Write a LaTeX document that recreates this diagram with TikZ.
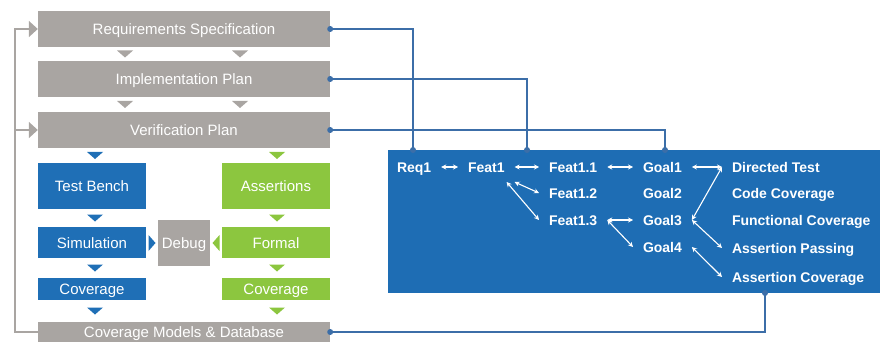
\documentclass[tikz,border=0pt]{standalone}
\usepackage{fontspec}
\setmainfont{Liberation Sans}
\usetikzlibrary{arrows.meta}
\definecolor{BoxGray}{HTML}{A9A5A2}
\definecolor{BenchBlue}{HTML}{1F6FB6}
\definecolor{FormalGreen}{HTML}{8CC63F}
\definecolor{PanelBlue}{HTML}{1E6DB4}
\definecolor{LinkBlue}{HTML}{3C6EA8}

\begin{document}
\begin{tikzpicture}[x=1pt, y=-1pt]

    \tikzset{%
        flowbox/.style={fill=#1, text=white, inner sep=0pt, text height=11pt, text depth=0pt,
                font=\fontsize{15}{18}\selectfont},
        planbox/.style={flowbox=BoxGray, minimum width=292, minimum height=36},
        link/.style={LinkBlue, line width=1.3pt},
        feedback/.style={BoxGray, line width=1.8pt, -{Triangle[length=9pt, width=16pt]}},
        item/.style={anchor=west, text=white, inner sep=2pt, outer sep=8pt,
                text height=10pt, text depth=0pt, font=\fontsize{14}{16}\selectfont\bfseries},
        relation/.style={white, line width=1.1pt,
                {Stealth[length=5pt, width=5pt]}-{Stealth[length=5pt, width=5pt]}},
        pics/tri/.style={%
                code={%
                        \fill [#1] (-8, -3.5) -- (8, -3.5) -- (0, 3.5) -- cycle;
                    }
            }
    }

    \useasboundingbox (0, 0) rectangle (886, 342);

    % flow on the left
    \node [planbox] (reqspec) at (184, 29) {Requirements Specification};
    \node [planbox] (implplan) at (184, 79) {Implementation Plan};
    \node [planbox] (verifplan) at (184, 130) {Verification Plan};
    \node [planbox, minimum height=20] (covdb) at (184, 332) {Coverage Models \& Database};

    \node [flowbox=BenchBlue, minimum width=108, minimum height=46] (testbench) at (92, 186) {Test Bench};
    \node [flowbox=BenchBlue, minimum width=108, minimum height=31] (simulation) at (92, 242.5) {Simulation};
    \node [flowbox=BenchBlue, minimum width=108, minimum height=22] (simcov) at (92, 289) {Coverage};

    \node [flowbox=FormalGreen, minimum width=108, minimum height=46] (assertions) at (276, 186) {Assertions};
    \node [flowbox=FormalGreen, minimum width=108, minimum height=31] (formal) at (276, 242.5) {Formal};
    \node [flowbox=FormalGreen, minimum width=108, minimum height=22] (formalcov) at (276, 289) {Coverage};

    \node [flowbox=BoxGray, minimum width=52, minimum height=46] (debug) at (184, 243) {Debug};

    \foreach \x in {125, 240} {%
            \pic at (\x, 54) {tri=BoxGray};
            \pic at (\x, 104.5) {tri=BoxGray};
        }
    \foreach \y in {155.5, 218, 268, 311} {%
            \pic at (95, \y) {tri=BenchBlue};
            \pic at (277, \y) {tri=FormalGreen};
        }
    \pic [rotate=90] at (152, 243) {tri=BenchBlue};
    \pic [rotate=-90] at (216, 243) {tri=FormalGreen};

    % feedback loop
    \coordinate (loopcorner) at (15, 332);
    \draw [feedback] (covdb.west) -- (loopcorner) |- (reqspec.west);
    \draw [feedback] (loopcorner) |- (verifplan.west);

    % traceability panel
    \node [fill=PanelBlue, inner sep=0pt, minimum width=492, minimum height=143] (panel) at (634, 221.5) {};

    \coordinate (pinreq) at (413, 150);
    \coordinate (pinimpl) at (527, 150);
    \coordinate (pinverif) at (665, 150);
    \coordinate (pincov) at (765, 293);
    \draw [link] (reqspec.east) -| (pinreq);
    \draw [link] (implplan.east) -| (pinimpl);
    \draw [link] (verifplan.east) -| (pinverif);
    \draw [link] (covdb.east) -| (pincov);
    \foreach \p in {reqspec.east, implplan.east, verifplan.east, covdb.east, pinreq, pinimpl, pinverif, pincov} {%
            \fill [LinkBlue] (\p) circle (3);
        }

    \node [item] (req1) at (387, 167) {Req1};
    \node [item] (feat1) at (458, 167) {Feat1};
    \node [item] (feat11) at (539, 167) {Feat1.1};
    \node [item] (feat12) at (539, 193) {Feat1.2};
    \node [item] (feat13) at (539, 220) {Feat1.3};
    \node [item] (goal1) at (633, 167) {Goal1};
    \node [item] (goal2) at (633, 193) {Goal2};
    \node [item] (goal3) at (633, 220) {Goal3};
    \node [item] (goal4) at (633, 247) {Goal4};
    \node [item] (directed) at (722, 167) {Directed Test};
    \node [item] (codecov) at (722, 193) {Code Coverage};
    \node [item] (funccov) at (722, 220) {Functional Coverage};
    \node [item] (passing) at (722, 248) {Assertion Passing};
    \node [item] (assertcov) at (722, 277) {Assertion Coverage};

    \draw [relation] (req1.east) -- (feat1.west);
    \draw [relation] (feat1.east) -- (feat11.west);
    \draw [relation] (feat11.east) -- (goal1.west);
    \draw [relation] (feat1.south east) -- (feat12.west);
    \draw [relation] ([xshift=-8pt]feat1.south east) -- (feat13.west);
    \draw [relation] (feat13.east) -- (goal3.west);
    \draw [relation] (feat13.east) -- (goal4.west);
    \draw [relation] (goal1.east) -- (directed.west);
    \draw [relation] (directed.west) -- (goal3.east);
    \draw [relation] (goal3.east) -- (passing.west);
    \draw [relation] (goal4.east) -- (assertcov.west);

\end{tikzpicture}
\end{document}
